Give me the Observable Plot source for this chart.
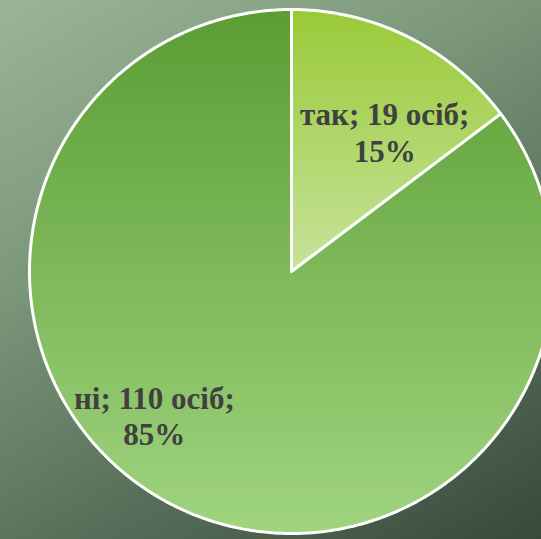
<!DOCTYPE html>
<html>
<head>
<meta charset="utf-8">
<script src="https://cdn.jsdelivr.net/npm/d3@7"></script>
<script src="https://cdn.jsdelivr.net/npm/@observablehq/plot@0.6"></script>
<style>
  html, body { margin: 0; padding: 0; }
  body {
    width: 541px; height: 539px; overflow: hidden;
    background: linear-gradient(150deg, #9bb696 0%, #7b9679 35%, #556d58 70%, #384a3b 100%);
  }
  svg { display: block; background: transparent !important; }
</style>
</head>
<body>
<div id="chart"></div>
<script>
const categories = ["так", "ні"];
const counts = [19, 110];
const percentLabels = ["15%", "85%"];
const unitLabel = "осіб";

const total = d3.sum(counts);
const pie = d3.pie().sort(null).value(d => d)(counts);

// Build slice outlines (center -> arc -> center) in unit data space
const slices = [];
pie.forEach((p, i) => {
  const n = Math.max(2, Math.ceil((p.endAngle - p.startAngle) / 0.01));
  slices.push({cat: categories[i], x: 0, y: 0});
  for (let k = 0; k <= n; k++) {
    const a = p.startAngle + (p.endAngle - p.startAngle) * k / n;
    slices.push({cat: categories[i], x: Math.sin(a), y: Math.cos(a)});
  }
  slices.push({cat: categories[i], x: 0, y: 0});
});

const labels = pie.map((p, i) => {
  const a = (p.startAngle + p.endAngle) / 2;
  return {
    cat: categories[i],
    x: 0.6 * Math.sin(a),
    y: 0.6 * Math.cos(a),
    text: `${categories[i]}; ${counts[i]} ${unitLabel};\n${percentLabels[i]}`
  };
});

const textOpts = {
  x: "x", y: "y", text: "text",
  fontFamily: "'Liberation Serif', 'Times New Roman', serif",
  fontWeight: "bold",
  fontSize: 31,
  fill: "#404040",
  lineHeight: 1.19,
  textAnchor: "middle",
  lineAnchor: "middle"
};

const chart = Plot.plot({
  width: 541,
  height: 539,
  margin: 0,
  style: {background: "transparent", overflow: "visible"},
  x: {domain: [-1, 1], range: [29, 553], axis: null},
  y: {domain: [-1, 1], range: [533, 9], axis: null},
  marks: [
    Plot.line(slices.filter(d => d.cat === categories[0]), {
      x: "x", y: "y", fill: "url(#gTak)", stroke: "white", strokeWidth: 3, strokeLinejoin: "miter", curve: "linear"
    }),
    Plot.line(slices.filter(d => d.cat === categories[1]), {
      x: "x", y: "y", fill: "url(#gNi)", stroke: "white", strokeWidth: 3, strokeLinejoin: "miter", curve: "linear"
    }),
    Plot.text(labels.filter(d => d.cat === categories[0]), {...textOpts, dx: 23, dy: 1}),
    Plot.text(labels.filter(d => d.cat === categories[1]), {...textOpts, dx: -67, dy: 3})
  ]
});

const svg = d3.select(chart.tagName.toLowerCase() === "svg" ? chart : chart.querySelector("svg"));
const defs = svg.insert("defs", ":first-child");
const g1 = defs.append("linearGradient").attr("id", "gTak").attr("x1", 0).attr("y1", 0).attr("x2", 0).attr("y2", 1);
g1.append("stop").attr("offset", "0%").attr("stop-color", "#99ca37");
g1.append("stop").attr("offset", "100%").attr("stop-color", "#c6e29b");
const g2 = defs.append("linearGradient").attr("id", "gNi").attr("x1", 0).attr("y1", 0).attr("x2", 0).attr("y2", 1);
g2.append("stop").attr("offset", "0%").attr("stop-color", "#5b9d34");
g2.append("stop").attr("offset", "100%").attr("stop-color", "#a0d47f");

document.getElementById("chart").appendChild(chart);
</script>
</body>
</html>
